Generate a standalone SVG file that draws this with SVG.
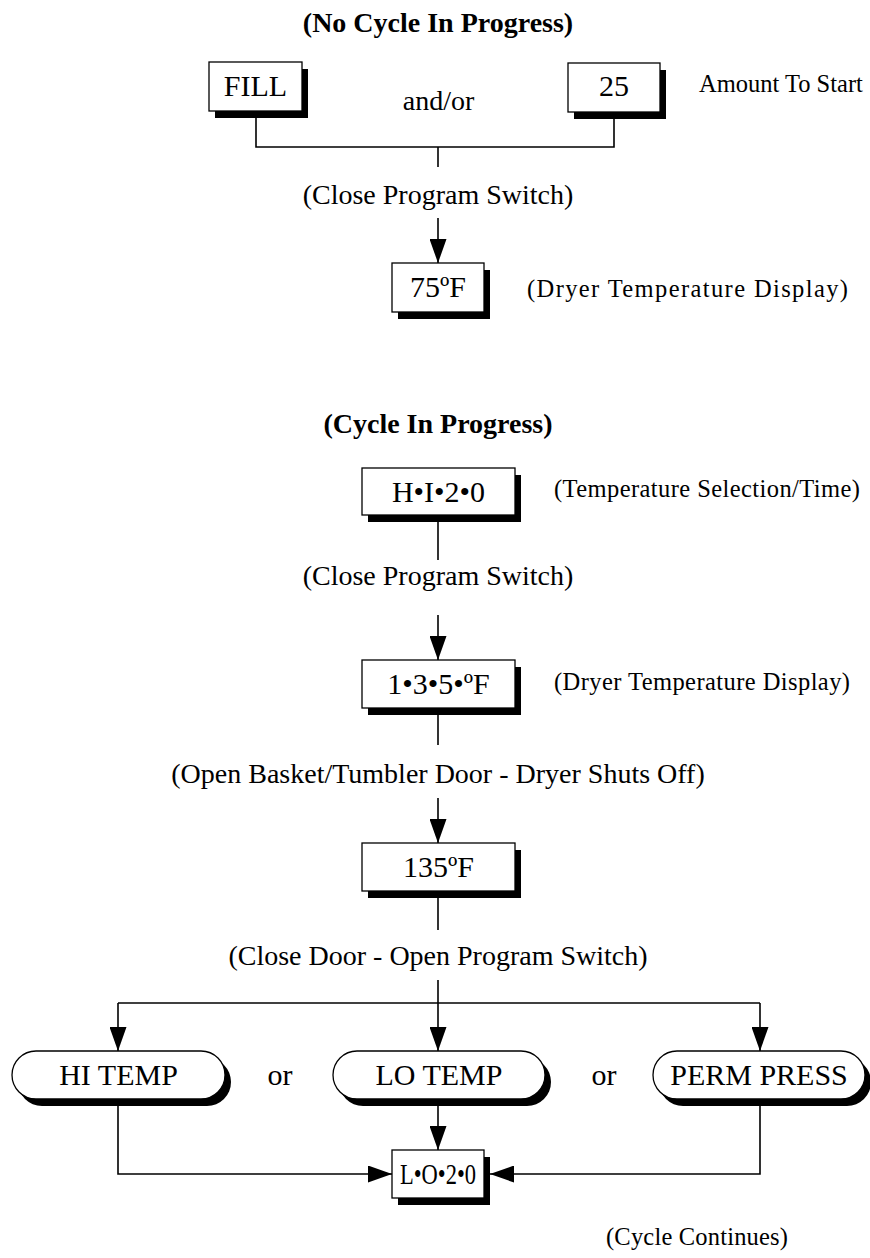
<svg xmlns="http://www.w3.org/2000/svg" width="870" height="1258" viewBox="0 0 870 1258">
<defs>
<style>
text{font-family:"Liberation Serif","Times New Roman",serif;fill:#000}
.title{font-size:28px;font-weight:bold;text-anchor:middle}
.big{font-size:28px;text-anchor:middle}
.node{font-size:30px;text-anchor:middle}
.note{font-size:24.5px}
.sh{fill:#000}
.bx{fill:#fff;stroke:#000;stroke-width:1.3}
.ln{fill:none;stroke:#000;stroke-width:1.6}
</style>
<marker id="ah" markerUnits="userSpaceOnUse" markerWidth="24" markerHeight="17" refX="24" refY="8.5" orient="auto">
<path d="M0,0 L24,8.5 L0,17 z" fill="#000"/>
</marker>
</defs>
<rect width="870" height="1258" fill="#fff"/>

<text class="title" x="438" y="32">(No Cycle In Progress)</text>
<text class="title" x="438" y="433">(Cycle In Progress)</text>

<g id="connectors">
<path class="ln" d="M256,111 V147 H614 V112"/>
<path class="ln" d="M438,147 V167"/>
<path class="ln" d="M438,218 V263" marker-end="url(#ah)"/>
<path class="ln" d="M438,515 V560"/>
<path class="ln" d="M438,615 V660" marker-end="url(#ah)"/>
<path class="ln" d="M438,709 V745"/>
<path class="ln" d="M438,798 V843" marker-end="url(#ah)"/>
<path class="ln" d="M438,891 V930"/>
<path class="ln" d="M438,980 V1003"/>
<path class="ln" d="M118,1003 H760"/>
<path class="ln" d="M118,1003 V1051" marker-end="url(#ah)"/>
<path class="ln" d="M438,1003 V1051" marker-end="url(#ah)"/>
<path class="ln" d="M760,1003 V1051" marker-end="url(#ah)"/>
<path class="ln" d="M438,1099 V1150" marker-end="url(#ah)"/>
<path class="ln" d="M118,1099 V1174 H392" marker-end="url(#ah)"/>
<path class="ln" d="M760,1099 V1174 H490" marker-end="url(#ah)"/>
</g>

<g id="fill">
<rect class="sh" x="215" y="69" width="93" height="49"/>
<rect class="bx" x="209" y="62" width="93" height="49"/>
<text class="node" x="255.5" y="96">FILL</text>
</g>
<text class="big" x="438.5" y="110">and/or</text>
<g id="amt25">
<rect class="sh" x="574" y="70" width="92" height="49"/>
<rect class="bx" x="568" y="63" width="92" height="49"/>
<text class="node" x="614" y="96">25</text>
</g>
<text class="note" x="699" y="92">Amount To Start</text>

<text class="big" x="438" y="204">(Close Program Switch)</text>

<g id="temp75">
<rect class="sh" x="398" y="270" width="92" height="49"/>
<rect class="bx" x="392" y="263" width="92" height="49"/>
<text class="node" x="438" y="297">75ºF</text>
</g>
<text class="note" x="527" y="297" textLength="321">(Dryer Temperature Display)</text>

<g id="hi20">
<rect class="sh" x="368" y="475" width="153" height="47"/>
<rect class="bx" x="362" y="468" width="153" height="47"/>
<text class="node" x="438.5" y="502">H•I•2•0</text>
</g>
<text class="note" x="554" y="497" textLength="306">(Temperature Selection/Time)</text>

<text class="big" x="438" y="585">(Close Program Switch)</text>

<g id="t135dots">
<rect class="sh" x="368" y="667" width="153" height="48"/>
<rect class="bx" x="362" y="660" width="153" height="48"/>
<text class="node" x="438.5" y="694">1•3•5•ºF</text>
</g>
<text class="note" x="554" y="690" textLength="296">(Dryer Temperature Display)</text>

<text class="big" x="438" y="783">(Open Basket/Tumbler Door - Dryer Shuts Off)</text>

<g id="t135">
<rect class="sh" x="368" y="850" width="153" height="48"/>
<rect class="bx" x="362" y="843" width="153" height="48"/>
<text class="node" x="438.5" y="877">135ºF</text>
</g>

<text class="big" x="438" y="965">(Close Door - Open Program Switch)</text>

<g id="hitemp">
<rect class="sh" x="18" y="1058" width="213" height="48" rx="24"/>
<rect class="bx" x="12" y="1051" width="213" height="48" rx="24"/>
<text class="node" x="118.5" y="1085">HI TEMP</text>
</g>
<text class="node" x="280" y="1085">or</text>
<g id="lotemp">
<rect class="sh" x="339" y="1058" width="212" height="48" rx="24"/>
<rect class="bx" x="333" y="1051" width="212" height="48" rx="24"/>
<text class="node" x="439" y="1085">LO TEMP</text>
</g>
<text class="node" x="604" y="1085">or</text>
<g id="permpress">
<rect class="sh" x="659" y="1058" width="212" height="48" rx="24"/>
<rect class="bx" x="653" y="1051" width="212" height="48" rx="24"/>
<text class="node" x="759" y="1085">PERM PRESS</text>
</g>

<g id="lo20">
<rect class="sh" x="398" y="1157" width="92" height="48"/>
<rect class="bx" x="392" y="1150" width="92" height="48"/>
<text class="node" x="438" y="1184" font-size="27" textLength="76" lengthAdjust="spacingAndGlyphs">L•O•2•0</text>
</g>

<text class="note" x="606" y="1245" textLength="182">(Cycle Continues)</text>
</svg>
